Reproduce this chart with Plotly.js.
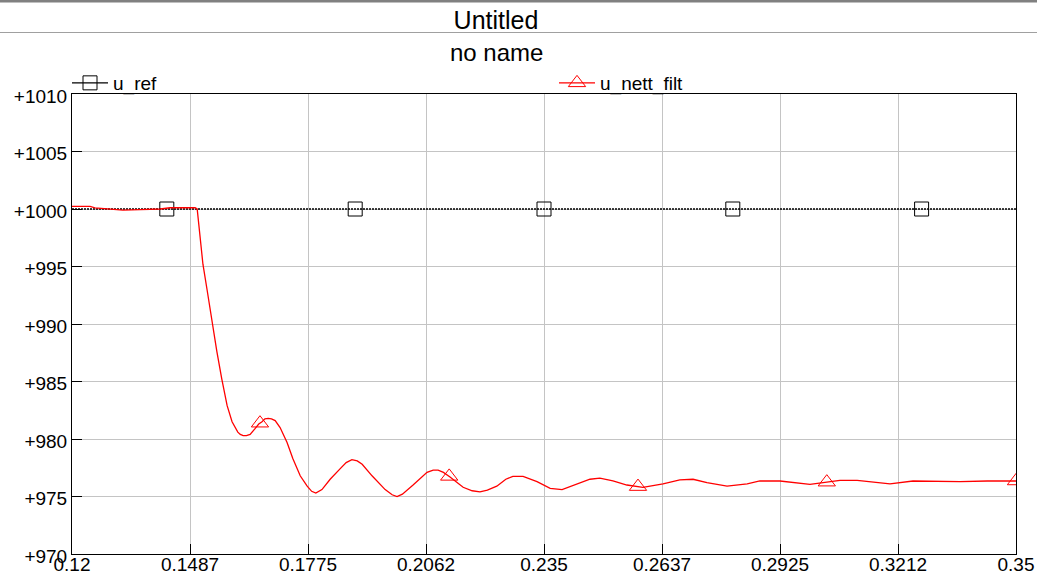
<!DOCTYPE html>
<html>
<head>
<meta charset="utf-8">
<script src="https://cdn.plot.ly/plotly-3.0.1.min.js"></script>
<style>
  html, body { margin: 0; padding: 0; background: #ffffff; }
  #chart { width: 1037px; height: 575px; }
</style>
</head>
<body>
<div id="chart"></div>
<script>
// Simulation time (s) and filtered net voltage samples
const time = [
  0.1200, 0.1244, 0.1256, 0.1280, 0.1324, 0.1366, 0.1415, 0.1439, 0.1500,
  0.1505, 0.1512, 0.1519, 0.1529, 0.1541, 0.1553, 0.1565, 0.1578, 0.1590,
  0.1597, 0.1604, 0.1610, 0.1617, 0.1625, 0.1634, 0.1646, 0.1655, 0.1663,
  0.1670, 0.1678, 0.1686, 0.1695, 0.1707, 0.1724,
  0.1738, 0.1756, 0.1773, 0.1784, 0.1794, 0.1809, 0.1829, 0.1853, 0.1868,
  0.1882, 0.1895, 0.1907,
  0.1931, 0.1963, 0.1980, 0.1992, 0.2005, 0.2031, 0.2065, 0.2080, 0.2092,
  0.2105, 0.2121, 0.2153, 0.2175, 0.2194, 0.2212,
  0.2235, 0.2257, 0.2274, 0.2299, 0.2333, 0.2365, 0.2394, 0.2430, 0.2462, 0.2486,
  0.2518, 0.2552, 0.2591, 0.2640, 0.2681, 0.2713, 0.2747, 0.2796, 0.2845,
  0.2876, 0.2925, 0.2998, 0.3071, 0.3113, 0.3193, 0.3249, 0.3300, 0.3364,
  0.3430, 0.3500
];
const uNettFilt = [
  1000.23, 1000.23, 1000.10, 1000.04, 999.91, 999.95, 1000.00, 1000.11, 1000.11,
  1000.00, 997.7, 995.2, 993.0, 990.2, 987.6, 985.2, 982.9, 981.5,
  981.0, 980.6, 980.4, 980.3, 980.3, 980.4, 980.9, 981.3, 981.5,
  981.75, 981.8, 981.75, 981.6, 981.0, 979.7,
  978.3, 976.8, 975.9, 975.45, 975.3, 975.6, 976.5, 977.4, 977.95,
  978.2, 978.1, 977.8,
  976.8, 975.6, 975.15, 975.0, 975.2, 976.0, 977.1, 977.3, 977.3,
  977.1, 976.7, 975.8, 975.5, 975.4, 975.55,
  975.9, 976.5, 976.75, 976.75, 976.3, 975.7, 975.6, 976.1, 976.5, 976.6,
  976.35, 976.0, 975.8, 976.1, 976.45, 976.5, 976.2, 975.9, 976.1,
  976.35, 976.35, 976.05, 976.4, 976.4, 976.1, 976.35, 976.3, 976.3,
  976.35, 976.35
];

// Reference voltage (constant set point)
const refTime = [0.12, 0.35];
const uRef = [1000, 1000];

// Times where the series symbols are placed
const refMarkerTime = [0.1431, 0.1890, 0.2350, 0.2810, 0.3270];
const nettMarkerTime = [0.1658, 0.2119, 0.2579, 0.3039, 0.3500];

// Axis ticks
const xTickVals = [0.12, 0.14875, 0.1775, 0.20625, 0.235, 0.26375, 0.2925, 0.32125, 0.35];
const xTickText = ['0.12', '0.1487', '0.1775', '0.2062', '0.235', '0.2637', '0.2925', '0.3212', '0.35'];
const yTickVals = [970, 975, 980, 985, 990, 995, 1000, 1005, 1010];
const yTickText = ['+970', '+975', '+980', '+985', '+990', '+995', '+1000', '+1005', '+1010'];

// Linear lookup of a series value at time t
function sampleAt(ts, vs, t) {
  for (let i = 1; i < ts.length; i++) {
    if (t <= ts[i]) {
      const f = (t - ts[i - 1]) / (ts[i] - ts[i - 1]);
      return vs[i - 1] + f * (vs[i] - vs[i - 1]);
    }
  }
  return vs[vs.length - 1];
}

const refMarkerVal = refMarkerTime.map(t => sampleAt(refTime, uRef, t));
const nettMarkerVal = nettMarkerTime.map(t => sampleAt(time, uNettFilt, t));

const black = '#000000';
const red = '#ff0000';
const font = 'Liberation Sans, Arial, sans-serif';
const squareMarker = { symbol: 'square-open', size: 14, color: black, line: { width: 1, color: black } };
const triangleMarker = { symbol: 'triangle-up-open', size: 15, color: red, line: { width: 1, color: red } };

const traces = [
  { x: refTime, y: uRef, mode: 'lines', line: { color: black, width: 1.4, dash: '2px,1px' },
    showlegend: false, hoverinfo: 'skip' },
  { x: refMarkerTime, y: refMarkerVal, mode: 'markers', marker: squareMarker,
    showlegend: false, hoverinfo: 'skip' },
  { x: time, y: uNettFilt, mode: 'lines', line: { color: red, width: 1.3 },
    showlegend: false, hoverinfo: 'skip' },
  { x: nettMarkerTime, y: nettMarkerVal, mode: 'markers', marker: triangleMarker,
    showlegend: false, hoverinfo: 'skip' },
  // legend entries: line with symbol
  { x: [null], y: [null], name: 'u_ref', mode: 'lines+markers', legend: 'legend',
    line: { color: black, width: 1.3 }, marker: squareMarker },
  { x: [null], y: [null], name: 'u_nett_filt', mode: 'lines+markers', legend: 'legend2',
    line: { color: red, width: 1.3 }, marker: triangleMarker }
];

const legendBase = {
  orientation: 'h', xanchor: 'left', y: (554 - 83) / 460, yanchor: 'middle',
  font: { family: font, size: 19, color: '#000' },
  bgcolor: 'rgba(0,0,0,0)', itemwidth: 36
};

const layout = {
  width: 1037, height: 575,
  margin: { l: 72, r: 21, t: 94, b: 21, pad: 0 },
  paper_bgcolor: '#ffffff', plot_bgcolor: '#ffffff',
  font: { family: font, color: '#000000', size: 19 },
  title: { text: 'Untitled', font: { family: font, size: 25, color: '#000' },
           x: 496 / 1037, xref: 'container', xanchor: 'center',
           y: 1 - 20 / 575, yref: 'container', yanchor: 'middle' },
  annotations: [
    { text: 'no name', xref: 'paper', yref: 'paper', x: (496 - 72) / 944, y: (554 - 52) / 460,
      xanchor: 'center', yanchor: 'middle', showarrow: false,
      font: { family: font, size: 24, color: '#000' } }
  ],
  shapes: [
    { type: 'line', xref: 'paper', yref: 'paper', x0: -0.1, x1: 1.1,
      y0: (554 - 1) / 460, y1: (554 - 1) / 460, line: { color: '#808080', width: 3 } },
    { type: 'line', xref: 'paper', yref: 'paper', x0: -0.1, x1: 1.1,
      y0: (554 - 32.5) / 460, y1: (554 - 32.5) / 460, line: { color: '#a0a0a0', width: 1 } }
  ],
  legend: Object.assign({}, legendBase, { x: -5 / 944 }),
  legend2: Object.assign({}, legendBase, { x: (560 - 72 - 6) / 944 }),
  xaxis: {
    range: [0.12, 0.35], tickmode: 'array', tickvals: xTickVals, ticktext: xTickText,
    ticks: 'inside', ticklen: 10, tickcolor: '#000', tickwidth: 1, ticklabelstandoff: -7,
    showgrid: true, gridcolor: '#c4c4c4', gridwidth: 1, zeroline: false,
    showline: true, linecolor: '#000', linewidth: 1, mirror: true,
    tickfont: { family: font, size: 19, color: '#000' }, fixedrange: true
  },
  yaxis: {
    range: [970, 1010], tickmode: 'array', tickvals: yTickVals, ticktext: yTickText,
    ticks: 'inside', ticklen: 10, tickcolor: '#000', tickwidth: 1, ticklabelshift: 2,
    showgrid: true, gridcolor: '#c4c4c4', gridwidth: 1, zeroline: false,
    showline: true, linecolor: '#000', linewidth: 1, mirror: true,
    tickfont: { family: font, size: 19, color: '#000' }, fixedrange: true
  }
};

Plotly.newPlot('chart', traces, layout, { displayModeBar: false, staticPlot: true });
</script>
</body>
</html>
